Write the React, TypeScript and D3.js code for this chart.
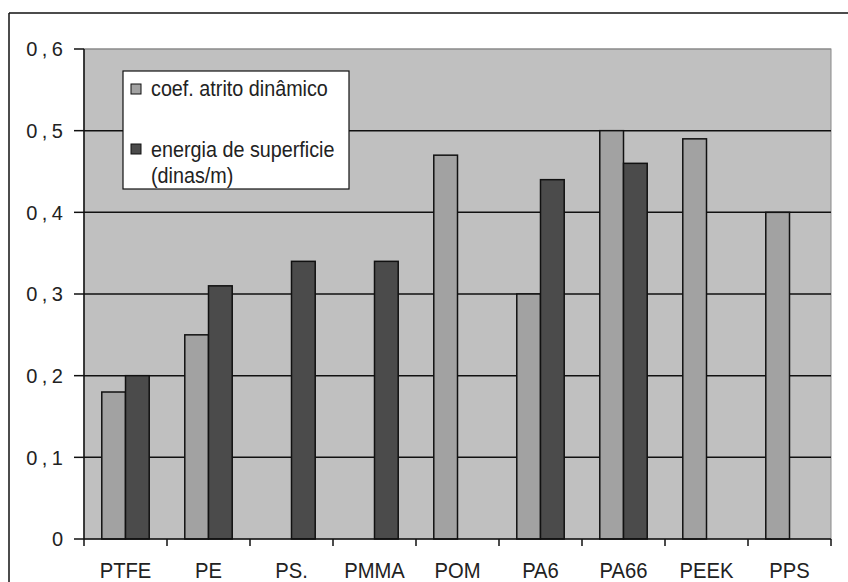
import * as d3 from "d3";

const categories = ["PTFE", "PE", "PS.", "PMMA", "POM", "PA6", "PA66", "PEEK", "PPS"];
const seriesNames = ["coef. atrito dinâmico", "energia de superficie", "(dinas/m)"];
const atrito: (number | null)[] = [0.18, 0.25, null, null, 0.47, 0.3, 0.5, 0.49, 0.4];
const energia: (number | null)[] = [0.2, 0.31, 0.34, 0.34, null, 0.44, 0.46, null, null];
const yTicks = [0, 0.1, 0.2, 0.3, 0.4, 0.5, 0.6];
const colors = ["#a2a2a2", "#4b4b4b"];

const W = 848;
const H = 582;
const plot = { left: 84, top: 49, right: 831, bottom: 539 };
const font = "'Liberation Sans', Arial, sans-serif";
const sx = 0.92; // glyphs in the original are a bit narrow

export default function App() {
  const x0 = d3.scaleBand<string>().domain(categories).range([plot.left, plot.right]);
  const x1 = d3
    .scaleBand<number>()
    .domain([0, 1])
    .range([0, x0.bandwidth()])
    .paddingInner(0)
    .paddingOuter(0.75);
  const y = d3.scaleLinear().domain([0, 0.6]).range([plot.bottom, plot.top]);

  const series = [atrito, energia];

  return (
    <svg
      width={W}
      height={H}
      style={{ position: "absolute", left: 0, top: 0, background: "#fff" }}
      fontFamily={font}
    >
      {/* outer chart border (cropped at right/bottom) */}
      <line x1={9} x2={W} y1={13} y2={13} stroke="#111" strokeWidth={1.5} />
      <line x1={9} x2={9} y1={13} y2={H} stroke="#111" strokeWidth={1.5} />

      {/* plot area */}
      <rect
        x={plot.left}
        y={plot.top}
        width={plot.right - plot.left}
        height={plot.bottom - plot.top}
        fill="#c0c0c0"
        stroke="#8a8a8a"
        strokeWidth={1}
      />

      {/* grid lines */}
      {yTicks.slice(1).map((t) => (
        <line
          key={t}
          x1={plot.left}
          x2={plot.right}
          y1={y(t)}
          y2={y(t)}
          stroke={t === 0.6 ? "#8a8a8a" : "#111"}
          strokeWidth={t === 0.6 ? 1 : 1.5}
        />
      ))}

      {/* bars */}
      {series.map((vals, si) =>
        categories.map((c, i) => {
          const v = vals[i];
          if (v == null) return null;
          const bx = (x0(c) ?? 0) + (x1(si) ?? 0);
          return (
            <rect
              key={`${si}-${c}`}
              x={bx}
              y={y(v)}
              width={x1.bandwidth()}
              height={y(0) - y(v)}
              fill={colors[si]}
              stroke="#111"
              strokeWidth={1.5}
            />
          );
        })
      )}

      {/* y axis */}
      <line x1={plot.left} x2={plot.left} y1={plot.top} y2={plot.bottom} stroke="#111" strokeWidth={1.5} />
      {yTicks.map((t) => (
        <g key={t}>
          <line x1={plot.left - 10} x2={plot.left} y1={y(t)} y2={y(t)} stroke="#111" strokeWidth={1.5} />
          <text
            x={67.5}
            y={y(t)}
            dy="0.36em"
            textAnchor="end"
            fontSize={20}
            letterSpacing={4.5}
            fill="#222"
          >
            {t === 0 ? "0" : d3.format(".1f")(t).replace(".", ",")}
          </text>
        </g>
      ))}

      {/* x axis */}
      <line x1={plot.left} x2={plot.right} y1={plot.bottom} y2={plot.bottom} stroke="#111" strokeWidth={1.5} />
      {[...categories.map((c) => x0(c) ?? 0), plot.right].map((tx, i) => (
        <line
          key={i}
          x1={tx}
          x2={tx}
          y1={plot.bottom}
          y2={plot.bottom + 7}
          stroke="#111"
          strokeWidth={1.5}
        />
      ))}
      {categories.map((c) => (
        <text
          key={c}
          transform={`translate(${(x0(c) ?? 0) + x0.bandwidth() / 2},578) scale(${sx},1)`}
          textAnchor="middle"
          fontSize={22}
          fill="#222"
        >
          {c}
        </text>
      ))}

      {/* legend */}
      <rect x={123} y={71} width={226} height={118} fill="#fff" stroke="#111" strokeWidth={1.2} />
      <rect x={131} y={84} width={10} height={10} fill={colors[0]} stroke="#111" strokeWidth={1} />
      <text transform={`translate(151,96) scale(${sx},1)`} fontSize={21.5} fill="#222">
        {seriesNames[0]}
      </text>
      <rect x={131} y={144} width={10} height={10} fill={colors[1]} stroke="#111" strokeWidth={1} />
      <text transform={`translate(151,157) scale(${sx},1)`} fontSize={21.5} fill="#222">
        <tspan x={0}>{seriesNames[1]}</tspan>
        <tspan x={0} dy={26}>{seriesNames[2]}</tspan>
      </text>
    </svg>
  );
}
